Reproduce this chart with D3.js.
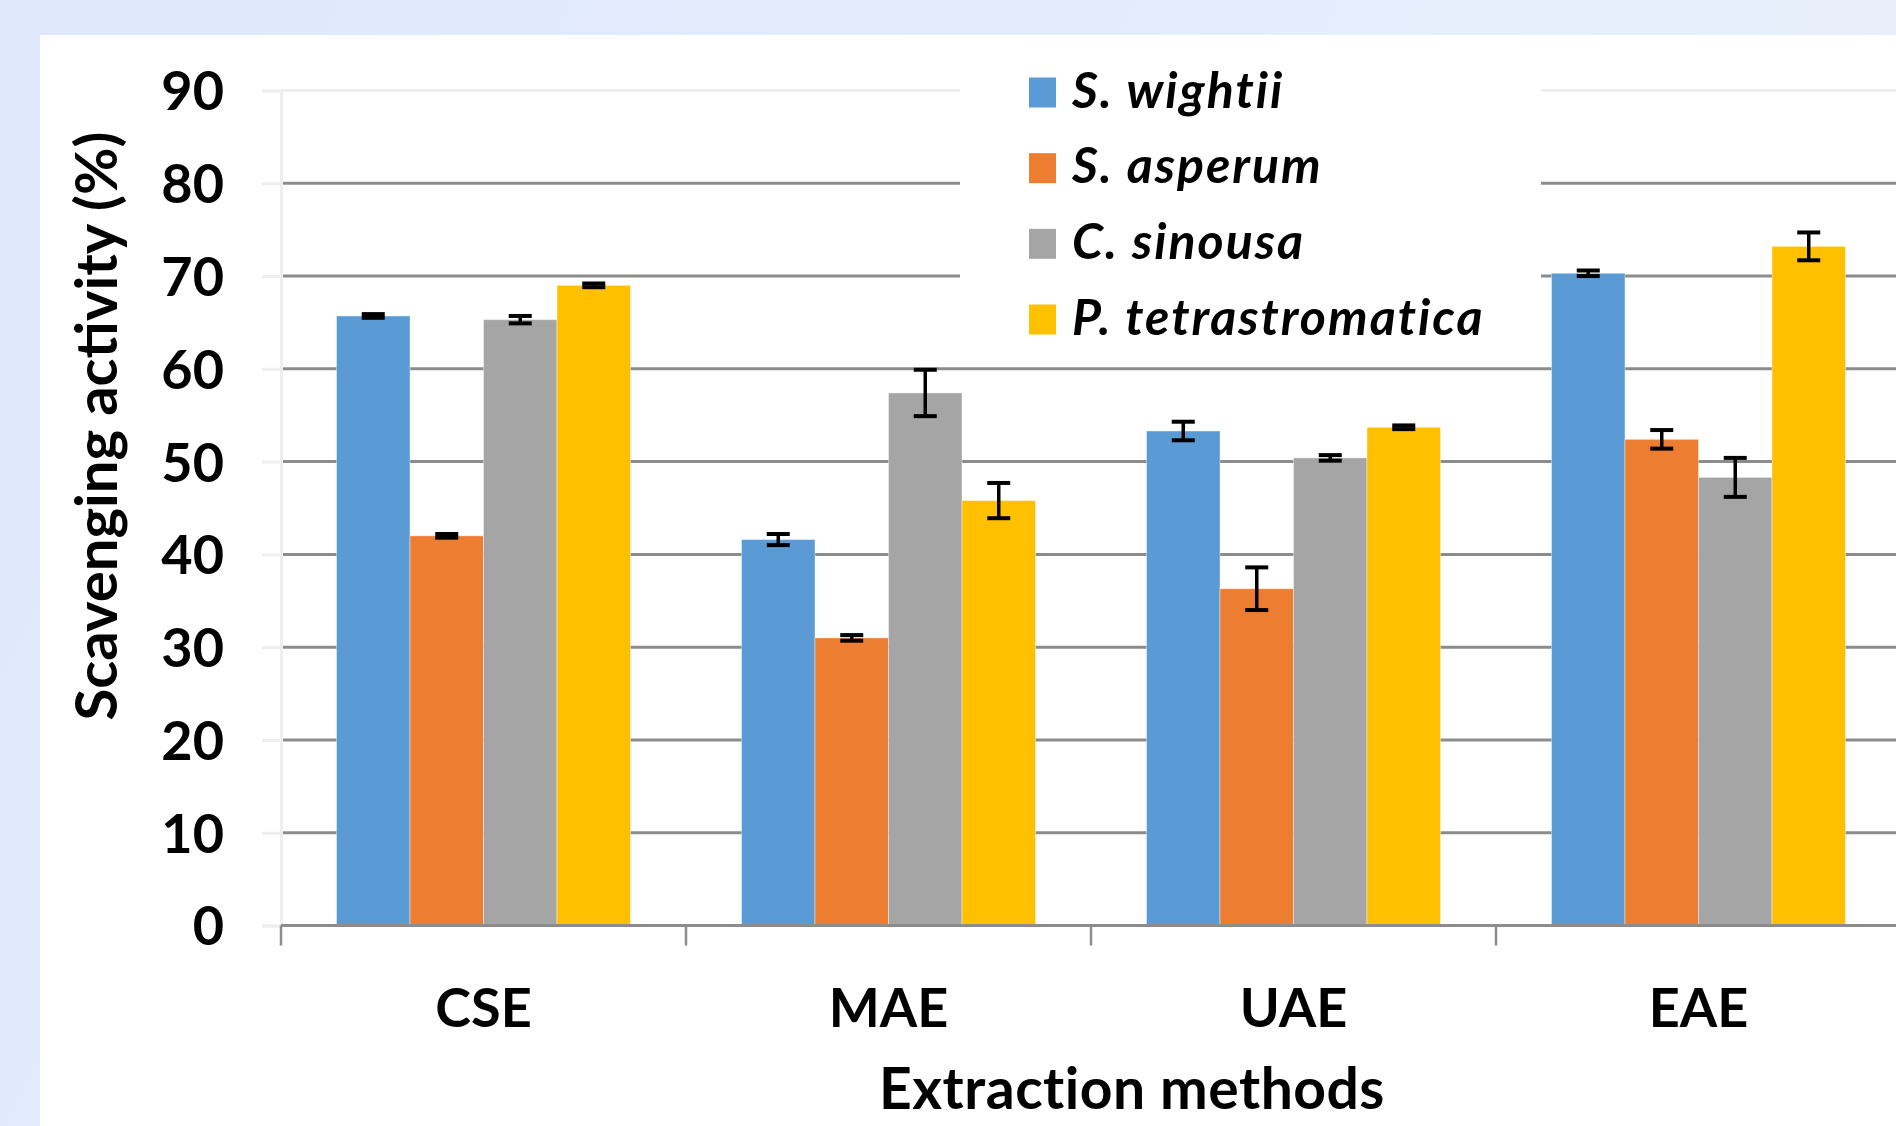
<!DOCTYPE html>
<html>
<head>
<meta charset="utf-8">
<script src="https://cdn.jsdelivr.net/npm/d3@7"></script>
<style>
  html, body { margin: 0; padding: 0; background: #e1e9fc; }
  svg { display: block; }
  text { font-family: Lato, "Open Sans", sans-serif; fill: #000; }
</style>
</head>
<body>
<svg id="chart" width="1896" height="1126"></svg>
<script>
// ---- data ----
const categories = ["CSE", "MAE", "UAE", "EAE"];
const seriesNames = ["S. wightii", "S. asperum", "C. sinousa", "P. tetrastromatica"];
const sWightii      = [65.7, 41.6, 53.3, 70.3];
const sWightiiErr   = [0.2, 0.6, 1.0, 0.3];
const sAsperum      = [42.0, 31.0, 36.3, 52.4];
const sAsperumErr   = [0.2, 0.3, 2.3, 1.0];
const cSinousa      = [65.3, 57.4, 50.4, 48.3];
const cSinousaErr   = [0.4, 2.5, 0.3, 2.1];
const pTetra        = [69.0, 45.8, 53.7, 73.2];
const pTetraErr     = [0.2, 1.9, 0.2, 1.5];
const yTicks = [0, 10, 20, 30, 40, 50, 60, 70, 80, 90];
const colors = ["#5B9BD5", "#ED7D31", "#A5A5A5", "#FFC000"];
const yTitle = "Scavenging activity (%)";
const xTitle = "Extraction methods";

const seriesValues = [sWightii, sAsperum, cSinousa, pTetra];
const seriesErrors = [sWightiiErr, sAsperumErr, cSinousaErr, pTetraErr];

const rows = [];
categories.forEach((c, ci) => {
  seriesNames.forEach((s, si) => {
    rows.push({ cat: c, ser: s, si, value: seriesValues[si][ci], err: seriesErrors[si][ci] });
  });
});

// ---- layout ----
const svg = d3.select("#chart");
const W = 1896, H = 1126;

const defs = svg.append("defs");
const grad = defs.append("linearGradient").attr("id", "bg").attr("x1", "0").attr("y1", "0").attr("x2", "1").attr("y2", "0.3");
grad.append("stop").attr("offset", "0").attr("stop-color", "#dfe7fd");
grad.append("stop").attr("offset", "1").attr("stop-color", "#e9f0fb");
svg.append("rect").attr("width", W).attr("height", H).attr("fill", "url(#bg)");
svg.append("rect").attr("x", 40).attr("y", 35).attr("width", W - 40).attr("height", H - 35).attr("fill", "#fff");

const plotLeft = 281, plotRight = 1901, plotTop = 90.5, plotBottom = 925.5;

const x0 = d3.scaleBand().domain(categories).range([plotLeft, plotRight]).paddingInner(0).paddingOuter(0);
const groupPad = 55.5;
const x1 = d3.scaleBand().domain(seriesNames).range([groupPad, x0.bandwidth() - groupPad]).padding(0);
const y = d3.scaleLinear().domain([0, 90]).range([plotBottom, plotTop]);

// gridlines
svg.append("g").selectAll("line").data(yTicks.filter(t => t > 0)).join("line")
  .attr("x1", plotLeft).attr("x2", W)
  .attr("y1", d => y(d)).attr("y2", d => y(d))
  .attr("stroke", d => d === 90 ? "#eeeeee" : "#8c8c8c")
  .attr("stroke-width", 3);

// y axis (light)
const yAxis = d3.axisLeft(y).tickValues(yTicks).tickSize(19).tickPadding(38).tickFormat(d3.format("d"));
const gy = svg.append("g").attr("transform", `translate(${plotLeft},0)`).call(yAxis);
gy.select(".domain").attr("stroke", "#eeeeee").attr("stroke-width", 3);
gy.selectAll(".tick line").attr("stroke", "#eeeeee").attr("stroke-width", 3);
gy.selectAll(".tick text").attr("font-family", "Lato, sans-serif").attr("font-weight", 700)
  .attr("font-size", 54).attr("fill", "#000").attr("dy", "0.36em");

// legend box (white behind legend)
svg.append("rect").attr("x", 960).attr("y", 50).attr("width", 581).attr("height", 300).attr("fill", "#fff");

// bars
const groups = svg.append("g").selectAll("g").data(categories).join("g")
  .attr("transform", d => `translate(${x0(d)},0)`);
groups.selectAll("rect").data(c => rows.filter(r => r.cat === c)).join("rect")
  .attr("x", d => x1(d.ser))
  .attr("width", x1.bandwidth())
  .attr("y", d => y(d.value))
  .attr("height", d => y(0) - y(d.value))
  .attr("fill", d => colors[d.si])
  .attr("stroke", "#ffffff").attr("stroke-opacity", 0.4).attr("stroke-width", 1);

// x axis line
svg.append("line").attr("x1", plotLeft).attr("x2", W).attr("y1", y(0)).attr("y2", y(0))
  .attr("stroke", "#8c8c8c").attr("stroke-width", 3);
// boundary ticks
const bounds = categories.map(c => x0(c)).concat([x0.range()[1]]);
svg.append("g").selectAll("line").data(bounds).join("line")
  .attr("x1", d => d).attr("x2", d => d)
  .attr("y1", y(0)).attr("y2", y(0) + 20)
  .attr("stroke", "#8c8c8c").attr("stroke-width", 2.5);

// error bars
const capW = 23;
const eg = groups.selectAll("g.err").data(c => rows.filter(r => r.cat === c)).join("g").attr("class", "err");
eg.append("line")
  .attr("x1", d => x1(d.ser) + x1.bandwidth() / 2).attr("x2", d => x1(d.ser) + x1.bandwidth() / 2)
  .attr("y1", d => y(d.value + d.err)).attr("y2", d => y(d.value - d.err))
  .attr("stroke", "#000").attr("stroke-width", 3.5);
eg.append("line")
  .attr("x1", d => x1(d.ser) + x1.bandwidth() / 2 - capW / 2).attr("x2", d => x1(d.ser) + x1.bandwidth() / 2 + capW / 2)
  .attr("y1", d => y(d.value + d.err)).attr("y2", d => y(d.value + d.err))
  .attr("stroke", "#000").attr("stroke-width", 4);
eg.append("line")
  .attr("x1", d => x1(d.ser) + x1.bandwidth() / 2 - capW / 2).attr("x2", d => x1(d.ser) + x1.bandwidth() / 2 + capW / 2)
  .attr("y1", d => y(d.value - d.err)).attr("y2", d => y(d.value - d.err))
  .attr("stroke", "#000").attr("stroke-width", 4);

// category labels
const xAxis = d3.axisBottom(x0).tickSize(0).tickPadding(0);
const gx = svg.append("g").attr("transform", `translate(0,${y(0)})`).call(xAxis);
gx.select(".domain").remove();
gx.selectAll(".tick text").attr("font-family", "Lato, sans-serif").attr("font-weight", 700)
  .attr("font-size", 54).attr("fill", "#000").attr("y", 82).attr("dy", "0.36em");

// axis titles
svg.append("text")
  .attr("transform", `translate(117,426) rotate(-90)`)
  .attr("text-anchor", "middle")
  .attr("font-weight", 700).attr("font-size", 58)
  .text(yTitle);
svg.append("text")
  .attr("x", 1132).attr("y", 1109)
  .attr("text-anchor", "middle")
  .attr("font-weight", 700).attr("font-size", 57)
  .attr("letter-spacing", 0.5)
  .text(xTitle);

// legend
const legY = d3.scalePoint().domain(seriesNames).range([92.5, 319.5]);
const lg = svg.append("g").selectAll("g").data(seriesNames).join("g")
  .attr("transform", d => `translate(1029,${legY(d)})`);
lg.append("rect").attr("x", 0).attr("y", -15).attr("width", 27).attr("height", 30)
  .attr("fill", (d, i) => colors[i]);
lg.append("text").attr("x", 43).attr("y", 15)
  .attr("font-weight", 700).attr("font-style", "italic").attr("font-size", 50)
  .attr("letter-spacing", 2)
  .text(d => d);
</script>
</body>
</html>
